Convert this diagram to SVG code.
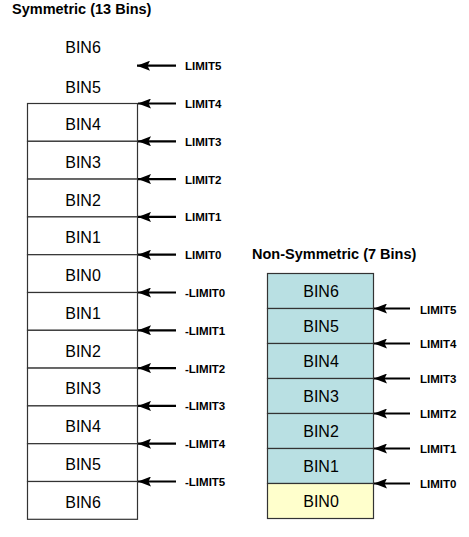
<svg xmlns="http://www.w3.org/2000/svg" width="469" height="537" viewBox="0 0 469 537">
<style>
.title{font-family:"Liberation Sans",Arial,sans-serif;font-weight:bold;font-size:14.5px;fill:#000}
.bin{font-family:"Liberation Sans",Arial,sans-serif;font-size:16px;fill:#000;text-anchor:middle}
.lbl{font-family:"Liberation Sans",Arial,sans-serif;font-weight:bold;font-size:11.5px;fill:#000}
.cell{stroke:#333;stroke-width:1.2}
.w{fill:#fff}
.b{fill:#b9e0e3}
.y{fill:#ffffcc}
.arr{stroke:#000;stroke-width:2.2;fill:none;marker-end:url(#ah)}
</style>
<defs>
<marker id="ah" viewBox="0 0 13 10" refX="13" refY="5" markerWidth="13" markerHeight="10" markerUnits="userSpaceOnUse" orient="auto">
<path d="M0,0 L13,5 L0,10 L2.5,5 Z" fill="#000"/>
</marker>
</defs>
<text class="title" x="12" y="14">Symmetric (13 Bins)</text>
<text class="title" x="252" y="259">Non-Symmetric (7 Bins)</text>
<g id="sym-bin6-top"><text class="bin" x="83" y="53">BIN6</text></g>
<g id="sym-bin5-top"><text class="bin" x="83" y="93">BIN5</text></g>
<g id="sym-bin4-top"><rect class="cell w" x="27.5" y="103.5" width="110" height="37.8"/><text class="bin" x="83" y="130">BIN4</text></g>
<g id="sym-bin3-top"><rect class="cell w" x="27.5" y="141.3" width="110" height="37.8"/><text class="bin" x="83" y="168">BIN3</text></g>
<g id="sym-bin2-top"><rect class="cell w" x="27.5" y="179.1" width="110" height="37.8"/><text class="bin" x="83" y="206">BIN2</text></g>
<g id="sym-bin1-top"><rect class="cell w" x="27.5" y="216.9" width="110" height="37.8"/><text class="bin" x="83" y="243">BIN1</text></g>
<g id="sym-bin0"><rect class="cell w" x="27.5" y="254.7" width="110" height="37.8"/><text class="bin" x="83" y="281">BIN0</text></g>
<g id="sym-bin1-bot"><rect class="cell w" x="27.5" y="292.5" width="110" height="37.8"/><text class="bin" x="83" y="319">BIN1</text></g>
<g id="sym-bin2-bot"><rect class="cell w" x="27.5" y="330.3" width="110" height="37.8"/><text class="bin" x="83" y="357">BIN2</text></g>
<g id="sym-bin3-bot"><rect class="cell w" x="27.5" y="368.1" width="110" height="37.8"/><text class="bin" x="83" y="394">BIN3</text></g>
<g id="sym-bin4-bot"><rect class="cell w" x="27.5" y="405.9" width="110" height="37.8"/><text class="bin" x="83" y="432">BIN4</text></g>
<g id="sym-bin5-bot"><rect class="cell w" x="27.5" y="443.7" width="110" height="37.8"/><text class="bin" x="83" y="470">BIN5</text></g>
<g id="sym-bin6-bot"><rect class="cell w" x="27.5" y="481.5" width="110" height="37.8"/><text class="bin" x="83" y="508">BIN6</text></g>

<g id="ns-bin6"><rect class="cell b" x="267.5" y="273.5" width="106" height="35"/><text class="bin" x="321" y="297">BIN6</text></g>
<g id="ns-bin5"><rect class="cell b" x="267.5" y="308.5" width="106" height="35"/><text class="bin" x="321" y="332">BIN5</text></g>
<g id="ns-bin4"><rect class="cell b" x="267.5" y="343.5" width="106" height="35"/><text class="bin" x="321" y="367">BIN4</text></g>
<g id="ns-bin3"><rect class="cell b" x="267.5" y="378.5" width="106" height="35"/><text class="bin" x="321" y="402">BIN3</text></g>
<g id="ns-bin2"><rect class="cell b" x="267.5" y="413.5" width="106" height="35"/><text class="bin" x="321" y="437">BIN2</text></g>
<g id="ns-bin1"><rect class="cell b" x="267.5" y="448.5" width="106" height="35"/><text class="bin" x="321" y="472">BIN1</text></g>
<g id="ns-bin0"><rect class="cell y" x="267.5" y="483.5" width="106" height="35"/><text class="bin" x="321" y="507">BIN0</text></g>

<g id="connectors">
<line class="arr" x1="176" y1="65.7" x2="137" y2="65.7"/>
<line class="arr" x1="176" y1="103.5" x2="138" y2="103.5"/>
<line class="arr" x1="176" y1="141.3" x2="138" y2="141.3"/>
<line class="arr" x1="176" y1="179.1" x2="138" y2="179.1"/>
<line class="arr" x1="176" y1="216.9" x2="138" y2="216.9"/>
<line class="arr" x1="176" y1="254.7" x2="138" y2="254.7"/>
<line class="arr" x1="176" y1="292.5" x2="138" y2="292.5"/>
<line class="arr" x1="176" y1="330.3" x2="138" y2="330.3"/>
<line class="arr" x1="176" y1="368.1" x2="138" y2="368.1"/>
<line class="arr" x1="176" y1="405.9" x2="138" y2="405.9"/>
<line class="arr" x1="176" y1="443.7" x2="138" y2="443.7"/>
<line class="arr" x1="176" y1="481.5" x2="138" y2="481.5"/>
<line class="arr" x1="410" y1="308.5" x2="374" y2="308.5"/>
<line class="arr" x1="410" y1="343.5" x2="374" y2="343.5"/>
<line class="arr" x1="410" y1="378.5" x2="374" y2="378.5"/>
<line class="arr" x1="410" y1="413.5" x2="374" y2="413.5"/>
<line class="arr" x1="410" y1="448.5" x2="374" y2="448.5"/>
<line class="arr" x1="410" y1="483.5" x2="374" y2="483.5"/>
</g>

<g id="labels">
<text class="lbl" x="185" y="70">LIMIT5</text>
<text class="lbl" x="185" y="107.5">LIMIT4</text>
<text class="lbl" x="185" y="145.5">LIMIT3</text>
<text class="lbl" x="185" y="183.5">LIMIT2</text>
<text class="lbl" x="185" y="221">LIMIT1</text>
<text class="lbl" x="185" y="259">LIMIT0</text>
<text class="lbl" x="185" y="296.5">-LIMIT0</text>
<text class="lbl" x="185" y="334.5">-LIMIT1</text>
<text class="lbl" x="185" y="372.5">-LIMIT2</text>
<text class="lbl" x="185" y="410">-LIMIT3</text>
<text class="lbl" x="185" y="448">-LIMIT4</text>
<text class="lbl" x="185" y="485.5">-LIMIT5</text>
<text class="lbl" x="420" y="313.5">LIMIT5</text>
<text class="lbl" x="420" y="348">LIMIT4</text>
<text class="lbl" x="420" y="383">LIMIT3</text>
<text class="lbl" x="420" y="418">LIMIT2</text>
<text class="lbl" x="420" y="453">LIMIT1</text>
<text class="lbl" x="420" y="488">LIMIT0</text>
</g>
</svg>
